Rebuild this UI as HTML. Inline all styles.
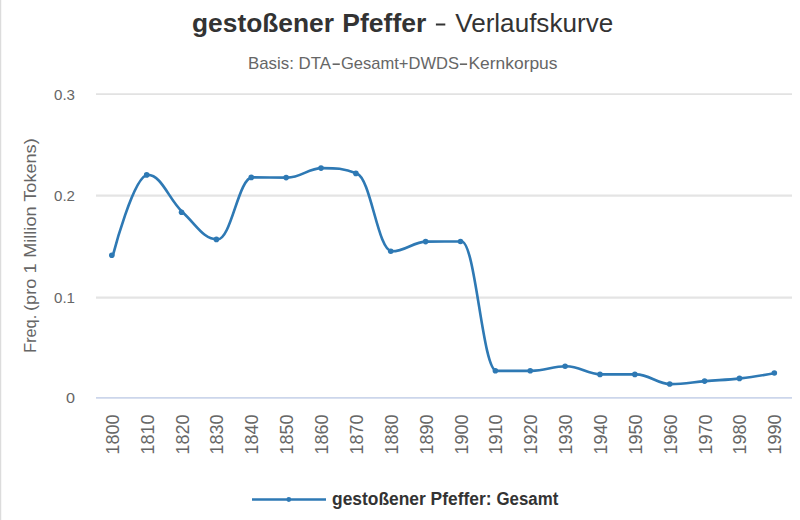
<!DOCTYPE html>
<html><head><meta charset="utf-8"><style>
html,body{margin:0;padding:0;background:#fff;width:800px;height:520px;overflow:hidden}
svg{display:block}
text{font-family:"Liberation Sans",sans-serif}
</style></head><body>
<svg width="800" height="520" viewBox="0 0 800 520">
<rect x="0" y="0" width="800" height="520" fill="#fff"/>
<rect x="0" y="0" width="1" height="520" fill="#dcdcdc"/>
<rect x="1" y="0" width="1" height="520" fill="#f7f7f7"/>
<g fill="none">
<path d="M96 94.1 H792" stroke="#e2e2e2" stroke-width="1.7"/><path d="M96 195.6 H792" stroke="#e4e4e4" stroke-width="2.4"/><path d="M96 297.6 H792" stroke="#e4e4e4" stroke-width="2.45"/>
</g>
<path d="M96 397.9 H792" stroke="#ccd6eb" stroke-width="1.85" fill="none"/>
<g fill="#333">
<text x="192" y="31.7" font-size="25.5" textLength="142" lengthAdjust="spacingAndGlyphs" font-weight="bold">gestoßener</text><text x="342.3" y="31.7" font-size="25.5" textLength="84" lengthAdjust="spacingAndGlyphs" font-weight="bold">Pfeffer</text>
<rect x="435.9" y="23.5" width="9.4" height="2"/>
<text x="455.2" y="31.7" font-size="25.5" textLength="158" lengthAdjust="spacingAndGlyphs" >Verlaufskurve</text>
</g>
<g fill="#666"><text x="248" y="69.2" font-size="17" textLength="83" lengthAdjust="spacingAndGlyphs" >Basis: DTA</text><text x="341" y="69.2" font-size="17" textLength="118" lengthAdjust="spacingAndGlyphs" >Gesamt+DWDS</text><text x="468.5" y="69.2" font-size="17" textLength="89" lengthAdjust="spacingAndGlyphs" >Kernkorpus</text>
<rect x="332.6" y="63.4" width="7.2" height="1.6"/>
<rect x="459.9" y="63.4" width="7.2" height="1.6"/></g>
<g font-size="15.5" fill="#666"><text x="75" y="99.89999999999999" text-anchor="end" textLength="21" lengthAdjust="spacingAndGlyphs">0.3</text><text x="75" y="201.4" text-anchor="end" textLength="21" lengthAdjust="spacingAndGlyphs">0.2</text><text x="75" y="303.20000000000005" text-anchor="end" textLength="21" lengthAdjust="spacingAndGlyphs">0.1</text><text x="75" y="402.70000000000005" text-anchor="end" textLength="9" lengthAdjust="spacingAndGlyphs">0</text></g>
<g font-size="17" fill="#666">
<text transform="translate(36,352.8) rotate(-90)" textLength="38" lengthAdjust="spacingAndGlyphs">Freq.</text>
<text transform="translate(36,311) rotate(-90)" textLength="47.5" lengthAdjust="spacingAndGlyphs">(pro 1</text>
<text transform="translate(36,257.8) rotate(-90)" textLength="119.5" lengthAdjust="spacingAndGlyphs">Million Tokens)</text>
</g>
<g font-size="17.5" fill="#666">
<text transform="translate(118.80,454.5) rotate(-90)" textLength="40" lengthAdjust="spacingAndGlyphs">1800</text>
<text transform="translate(153.67,454.5) rotate(-90)" textLength="40" lengthAdjust="spacingAndGlyphs">1810</text>
<text transform="translate(188.54,454.5) rotate(-90)" textLength="40" lengthAdjust="spacingAndGlyphs">1820</text>
<text transform="translate(223.41,454.5) rotate(-90)" textLength="40" lengthAdjust="spacingAndGlyphs">1830</text>
<text transform="translate(258.28,454.5) rotate(-90)" textLength="40" lengthAdjust="spacingAndGlyphs">1840</text>
<text transform="translate(293.15,454.5) rotate(-90)" textLength="40" lengthAdjust="spacingAndGlyphs">1850</text>
<text transform="translate(328.02,454.5) rotate(-90)" textLength="40" lengthAdjust="spacingAndGlyphs">1860</text>
<text transform="translate(362.89,454.5) rotate(-90)" textLength="40" lengthAdjust="spacingAndGlyphs">1870</text>
<text transform="translate(397.76,454.5) rotate(-90)" textLength="40" lengthAdjust="spacingAndGlyphs">1880</text>
<text transform="translate(432.63,454.5) rotate(-90)" textLength="40" lengthAdjust="spacingAndGlyphs">1890</text>
<text transform="translate(467.50,454.5) rotate(-90)" textLength="40" lengthAdjust="spacingAndGlyphs">1900</text>
<text transform="translate(502.37,454.5) rotate(-90)" textLength="40" lengthAdjust="spacingAndGlyphs">1910</text>
<text transform="translate(537.24,454.5) rotate(-90)" textLength="40" lengthAdjust="spacingAndGlyphs">1920</text>
<text transform="translate(572.11,454.5) rotate(-90)" textLength="40" lengthAdjust="spacingAndGlyphs">1930</text>
<text transform="translate(606.98,454.5) rotate(-90)" textLength="40" lengthAdjust="spacingAndGlyphs">1940</text>
<text transform="translate(641.85,454.5) rotate(-90)" textLength="40" lengthAdjust="spacingAndGlyphs">1950</text>
<text transform="translate(676.72,454.5) rotate(-90)" textLength="40" lengthAdjust="spacingAndGlyphs">1960</text>
<text transform="translate(711.59,454.5) rotate(-90)" textLength="40" lengthAdjust="spacingAndGlyphs">1970</text>
<text transform="translate(746.46,454.5) rotate(-90)" textLength="40" lengthAdjust="spacingAndGlyphs">1980</text>
<text transform="translate(781.33,454.5) rotate(-90)" textLength="40" lengthAdjust="spacingAndGlyphs">1990</text>
</g>
<path transform="translate(1.1,0)" d="M 111.80 255.30 C 111.80 255.30 132.72 174.90 146.67 174.90 C 160.62 174.90 167.59 199.30 181.54 212.20 C 195.49 225.10 202.46 239.40 216.41 239.40 C 230.36 239.40 237.33 177.40 251.28 177.40 C 265.23 177.40 272.20 177.60 286.15 177.60 C 300.10 177.60 307.07 168.10 321.02 168.10 C 334.97 168.10 341.94 168.10 355.89 173.40 C 369.84 178.70 376.81 251.25 390.76 251.25 C 404.71 251.25 411.68 241.70 425.63 241.60 C 439.58 241.50 446.55 241.50 460.50 241.50 C 474.45 241.50 481.42 370.80 495.37 370.80 C 509.32 370.80 516.29 370.80 530.24 370.80 C 544.19 370.80 551.16 366.25 565.11 366.25 C 579.06 366.25 586.03 374.40 599.98 374.40 C 613.93 374.40 620.90 374.40 634.85 374.40 C 648.80 374.40 655.77 384.05 669.72 384.05 C 683.67 384.05 690.64 382.23 704.59 381.10 C 718.54 379.97 725.51 380.02 739.46 378.40 C 753.41 376.78 774.33 373.00 774.33 373.00" stroke="#2e79b4" stroke-width="2.65" fill="none" stroke-linejoin="round" stroke-linecap="round"/>
<g fill="#2e79b4">
<circle cx="111.80" cy="255.30" r="2.8"/>
<circle cx="146.67" cy="174.90" r="2.8"/>
<circle cx="181.54" cy="212.20" r="2.8"/>
<circle cx="216.41" cy="239.40" r="2.8"/>
<circle cx="251.28" cy="177.40" r="2.8"/>
<circle cx="286.15" cy="177.60" r="2.8"/>
<circle cx="321.02" cy="168.10" r="2.8"/>
<circle cx="355.89" cy="173.40" r="2.8"/>
<circle cx="390.76" cy="251.25" r="2.8"/>
<circle cx="425.63" cy="241.60" r="2.8"/>
<circle cx="460.50" cy="241.50" r="2.8"/>
<circle cx="495.37" cy="370.80" r="2.8"/>
<circle cx="530.24" cy="370.80" r="2.8"/>
<circle cx="565.11" cy="366.25" r="2.8"/>
<circle cx="599.98" cy="374.40" r="2.8"/>
<circle cx="634.85" cy="374.40" r="2.8"/>
<circle cx="669.72" cy="384.05" r="2.8"/>
<circle cx="704.59" cy="381.10" r="2.8"/>
<circle cx="739.46" cy="378.40" r="2.8"/>
<circle cx="774.33" cy="373.00" r="2.8"/>
</g>
<path d="M252 499.5 H326" stroke="#2e79b4" stroke-width="2.6"/>
<circle cx="288.8" cy="499.5" r="2.4" fill="#2e79b4"/>
<g fill="#333"><text x="332" y="504.5" font-size="18" textLength="159.5" lengthAdjust="spacingAndGlyphs" font-weight="bold">gestoßener Pfeffer:</text><text x="496.5" y="504.5" font-size="18" textLength="61.8" lengthAdjust="spacingAndGlyphs" font-weight="bold">Gesamt</text></g>
</svg>
</body></html>
